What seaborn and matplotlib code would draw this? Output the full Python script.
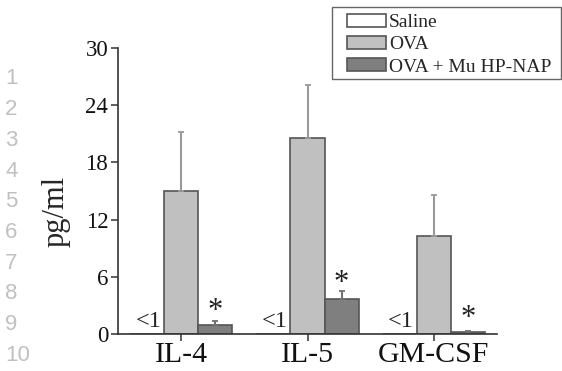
import matplotlib
matplotlib.use("Agg")
import matplotlib.pyplot as plt
from matplotlib.container import BarContainer
from matplotlib.patches import Rectangle
import seaborn as sns
import pandas as pd
import numpy as np

# ---- data ----
cytokines = ["IL-4", "IL-5", "GM-CSF"]
groups = ["Saline", "OVA", "OVA + Mu HP-NAP"]
saline_vals = [0.0, 0.0, 0.0]
ova_vals = [15.0, 20.6, 10.3]
ova_err = [6.2, 5.5, 4.3]
nap_vals = [0.95, 3.7, 0.18]
nap_err = [0.45, 0.8, 0.1]
below_label = "<1"
star_y = [3.0, 6.0, 2.3]
yticks = [0, 6, 12, 18, 24, 30]
line_numbers = [str(i) for i in range(1, 11)]

colors = {"Saline": "#ffffff", "OVA": "#c0c0c0", "OVA + Mu HP-NAP": "#7f7f7f"}

df = pd.DataFrame({
    "cytokine": cytokines * 3,
    "group": [g for g in groups for _ in cytokines],
    "value": saline_vals + ova_vals + nap_vals,
})

sns.set_theme(style="white")
plt.rcParams["font.family"] = ["Liberation Serif", "DejaVu Serif"]

fig = plt.figure(figsize=(5.62, 3.71), dpi=100)
ax = fig.add_axes([118 / 562, 37 / 371, 379 / 562, 286 / 371])

sns.barplot(data=df, x="cytokine", y="value", hue="group", order=cytokines,
            hue_order=groups, palette=colors, width=0.81, gap=0,
            edgecolor="#555555", linewidth=1.2, errorbar=None, legend=False, ax=ax)

conts = [c for c in ax.containers if isinstance(c, BarContainer)]

# error bars (upper only)
err_sets = [None, (ova_err, "#999999"), (nap_err, "#707070")]
for cont, es in zip(conts, err_sets):
    if es is None:
        continue
    errs, col = es
    xs = [b.get_x() + b.get_width() / 2 for b in cont]
    ys = [b.get_height() for b in cont]
    ax.errorbar(xs, ys, yerr=[[0] * len(errs), errs], fmt="none", ecolor=col,
                elinewidth=1.5, capsize=2.5, capthick=1.3, zorder=1)

# "<1" labels on saline bars, stars on treated bars
for b in conts[0]:
    ax.text(b.get_x() + b.get_width() / 2 + 0.01, 0.2, below_label, ha="center", va="bottom",
            fontsize=17.5, color="#222222")
for b, sy in zip(conts[2], star_y):
    ax.annotate("*", (b.get_x() + b.get_width() / 2, sy), xytext=(0, -4.5),
                textcoords="offset points", ha="center", va="center",
                fontsize=22, color="#222222")

ax.set_xlim(-0.5, 2.5)
ax.set_ylim(0, 30)
ax.set_yticks(yticks)
ax.set_yticklabels([str(t) for t in yticks], fontsize=16.5)
ax.set_xticks(range(len(cytokines)))
ax.set_xticklabels(cytokines, fontsize=21.5)
ax.set_xlabel("")
ax.set_ylabel("pg/ml", fontsize=22)
ax.yaxis.set_label_coords(-0.125, 0.43)

for s in ["top", "right"]:
    ax.spines[s].set_visible(False)
for s in ["left", "bottom"]:
    ax.spines[s].set_color("#333333")
    ax.spines[s].set_linewidth(1.2)
ax.tick_params(axis="both", direction="out", length=5, width=1.1, color="#333333",
               labelcolor="#111111", pad=2, left=True, bottom=True)
ax.tick_params(axis="x", pad=0.5)

# legend: box frame drawn at reference position, entries inside
fig.patches.append(Rectangle((332 / 562, 1 - 79 / 371), 229 / 562, 72 / 371,
                             transform=fig.transFigure, facecolor="white",
                             edgecolor="#666666", linewidth=1.0, zorder=0))
handles = [c.patches[0] for c in conts]
leg = fig.legend(handles, groups, loc="upper left", bbox_to_anchor=(347 / 562, 1 - 14 / 371),
                 bbox_transform=fig.transFigure, fontsize=14, frameon=False,
                 handlelength=2.0, handleheight=0.62, labelspacing=0.26,
                 handletextpad=0.15, borderpad=0, borderaxespad=0)

# manuscript line numbers in margin
for i, n in enumerate(line_numbers):
    fig.text(5 / 562, 1 - (79 + i * 30.7) / 371, n, ha="left", va="center",
             fontsize=16, color="#c0c0c0", family="Liberation Sans")

fig.savefig("out.png", dpi=100)
